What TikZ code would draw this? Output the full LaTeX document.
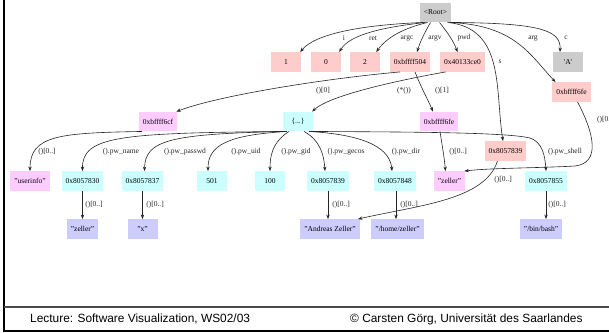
\documentclass[tikz,border=0pt]{standalone}
\usepackage{fontspec}
\setmainfont{Liberation Serif}
\newfontfamily\footfont{Liberation Sans}
\usetikzlibrary{arrows.meta}
\definecolor{cSalmon}{HTML}{FFCCCC}
\definecolor{cGray}{HTML}{CCCCCC}
\definecolor{cMag}{HTML}{FFCCFF}
\definecolor{cCyan}{HTML}{CCFFFF}
\definecolor{cLav}{HTML}{CCCCFF}
\begin{document}
\begin{tikzpicture}[x=1pt,y=-1pt,
  box/.style={rectangle, inner xsep=4pt, inner ysep=0pt, minimum width=30pt,
    minimum height=19.5pt, font=\fontsize{7.5}{9}\selectfont, text=black},
  boxS/.style={box, fill=cSalmon},
  boxG/.style={box, fill=cGray},
  boxM/.style={box, fill=cMag},
  boxC/.style={box, fill=cCyan},
  boxL/.style={box, fill=cLav},
  lbl/.style={font=\fontsize{7.5}{9}\selectfont, text=black!85, inner sep=0pt},
  edge/.style={draw=black!85, line width=0.6pt, -{Stealth[length=4.5pt,width=3.4pt]}},
  foot/.style={font=\footfont\fontsize{11.9}{14}\selectfont, inner sep=0pt, anchor=west},
]
\useasboundingbox (0,0) rectangle (609,332);
% frame
\draw[line width=2pt] (4.3,0) -- (4.3,332);
\draw[line width=1.2pt, black!70] (4.3,307) -- (609,307);
\draw[line width=2pt] (4.3,331) -- (609,331);
\node[foot] (f1) at (30,319) {Lecture: Software Visualization, WS02/03};
\node[foot] (f2) at (350,319) {© Carsten Görg, Universität des Saarlandes};

% nodes
\node[boxG] (root) at (435.5,12.5) {\textless Root\textgreater};
\node[boxS] (n1) at (286,62) {1};
\node[boxS] (n0) at (326,62) {0};
\node[boxS] (n2) at (365,62) {2};
\node[boxS] (argv) at (410,62) {0xbffff504};
\node[boxS] (pwd) at (462.5,62) {0x40133ce0};
\node[boxG] (cA) at (568,62) {\textquotesingle A\textquotesingle};
\node[boxS] (argp) at (571.5,92) {0xbffff6fe};
\node[boxM] (p6cf) at (158,121.5) {0xbffff6cf};
\node[boxC] (pw) at (298,121.5) {\{...\}};
\node[boxM] (p6fe) at (439,121.5) {0xbffff6fe};
\node[boxS] (s) at (505.5,151) {0x8057839};
\node[boxM] (ui) at (30,181) {"userinfo"};
\node[boxC] (a830) at (82.5,181) {0x8057830};
\node[boxC] (a837) at (142.5,181) {0x8057837};
\node[boxC] (uid) at (212,181) {501};
\node[boxC] (gid) at (270,181) {100};
\node[boxC] (a839) at (328,181) {0x8057839};
\node[boxC] (a848) at (395,181) {0x8057848};
\node[boxM] (zm) at (449.5,181) {"zeller"};
\node[boxC] (a855) at (546,181) {0x8057855};
\node[boxL] (zb) at (82.5,229) {"zeller"};
\node[boxL] (xs) at (142.5,229) {"x"};
\node[boxL] (az) at (330,229) {"Andreas Zeller"};
\node[boxL] (hz) at (397.5,229) {"/home/zeller"};
\node[boxL] (bb) at (541,229) {"/bin/bash"};

% edges from root
\draw[edge] ([xshift=-12pt]root.south) .. controls (360,25) and (315,34) .. ([xshift=-1pt]n1.north east);
\draw[edge] ([xshift=-10pt]root.south) .. controls (385,27) and (350,34) .. ([xshift=-2pt]n0.north east);
\draw[edge] ([xshift=-8pt]root.south) .. controls (405,28) and (388,36) .. ([xshift=-4pt]n2.north east);
\draw[edge] ([xshift=-5pt]root.south) .. controls (425,32) and (420,42) .. ([xshift=7pt]argv.north);
\draw[edge] ([xshift=4pt]root.south) .. controls (447,32) and (453,40) .. ([xshift=-5pt]pwd.north);
\draw[edge] ([xshift=12pt]root.south) .. controls (505,28) and (495,90) .. ([xshift=-2.5pt]s.north);
\draw[edge] ([xshift=14pt]root.south) .. controls (515,25) and (530,55) .. ([xshift=-16pt]argp.north);
\draw[edge] ([xshift=15pt]root.south) .. controls (540,23) and (561,30) .. ([xshift=-8pt]cA.north);
\node[lbl] (li) at (344,38) {i};
\node[lbl] (lret) at (373,38) {ret};
\node[lbl] (largc) at (407,38) {argc};
\node[lbl] (largv) at (435,38) {argv};
\node[lbl] (lpwd) at (464,38) {pwd};
\node[lbl] (ls) at (500,62) {s};
\node[lbl] (larg) at (533,38) {arg};
\node[lbl] (lc) at (566,38) {c};

% second level
\draw[edge] ([xshift=-10pt]argv.south) .. controls (330,78) and (220,95) .. ([xshift=-1pt]p6cf.north east);
\draw[edge] ([xshift=-17pt]pwd.south) .. controls (400,80) and (330,95) .. ([xshift=-1pt]pw.north east);
\draw[edge] ([xshift=5pt]argv.south) .. controls (420,85) and (428,100) .. ([xshift=-6pt]p6fe.north);
\node[lbl] (l0) at (323,91) {()[0]};
\node[lbl] (lstar) at (404,91) {(*())};
\node[lbl] (l1) at (442,91) {()[1]};

\draw[edge] ([xshift=6pt]argp.south) .. controls (595,135) and (600,163) .. (575,166)
   .. controls (540,168) and (490,168) .. ([xshift=-1pt]zm.north east);
\node[lbl, anchor=west] (lap) at (597,120) {()[0..]};

\draw[edge] ([xshift=1pt]p6fe.south) .. controls (442,145) and (444,155) .. ([xshift=-4pt]zm.north);
\node[lbl] (lp6fe) at (458,152) {()[0..]};

\draw[edge] ([xshift=-16pt]p6cf.south) .. controls (60,133) and (30,135) .. (ui.north);
\node[lbl] (lui) at (47,152) {()[0..]};

% pw fields
\draw[edge] ([xshift=-14pt]pw.south) .. controls (120,133) and (82,136) .. (a830.north);
\draw[edge] ([xshift=-13pt]pw.south) .. controls (170,134) and (145,140) .. ([xshift=2pt]a837.north);
\draw[edge] ([xshift=-11pt]pw.south) .. controls (228,135) and (208,145) .. ([xshift=-4pt]uid.north);
\draw[edge] ([xshift=-9pt]pw.south) .. controls (276,140) and (270,150) .. (gid.north);
\draw[edge] ([xshift=6pt]pw.south) .. controls (320,140) and (324,155) .. ([xshift=-3pt]a839.north);
\draw[edge] ([xshift=11pt]pw.south) .. controls (370,135) and (390,150) .. ([xshift=-3pt]a848.north);
\draw[edge] ([xshift=13pt]pw.south) .. controls (400,132) and (505,132) .. (530,138)
   .. controls (542,142) and (545,155) .. (a855.north);
\node[lbl] (lname) at (121,152) {().pw\_name};
\node[lbl] (lpass) at (185,152) {().pw\_passwd};
\node[lbl] (luid) at (246,152) {().pw\_uid};
\node[lbl] (lgid) at (296,152) {().pw\_gid};
\node[lbl] (lgecos) at (346,152) {().pw\_gecos};
\node[lbl] (ldir) at (406,152) {().pw\_dir};
\node[lbl] (lshell) at (565,152) {().pw\_shell};

% s -> Andreas Zeller
\draw[edge] ([xshift=-8pt]s.south) .. controls (485,200) and (420,205) .. ([xshift=-2pt]az.north east);
\node[lbl] (ls2) at (503,180) {()[0..]};

% bottom verticals
\draw[edge] (a830.south) -- (zb.north);
\draw[edge] (a837.south) -- (xs.north);
\draw[edge] (a839.south) -- ([xshift=-2pt]az.north);
\draw[edge] ([xshift=1pt]a848.south) -- ([xshift=-1.5pt]hz.north);
\draw[edge] (a855.south) -- ([xshift=5pt]bb.north);
\node[lbl] (lb1) at (94,205) {()[0..]};
\node[lbl] (lb2) at (155,205) {()[0..]};
\node[lbl] (lb3) at (341,205) {()[0..]};
\node[lbl] (lb4) at (409,205) {()[0..]};
\node[lbl] (lb5) at (557,205) {()[0..]};
\end{tikzpicture}
\end{document}
